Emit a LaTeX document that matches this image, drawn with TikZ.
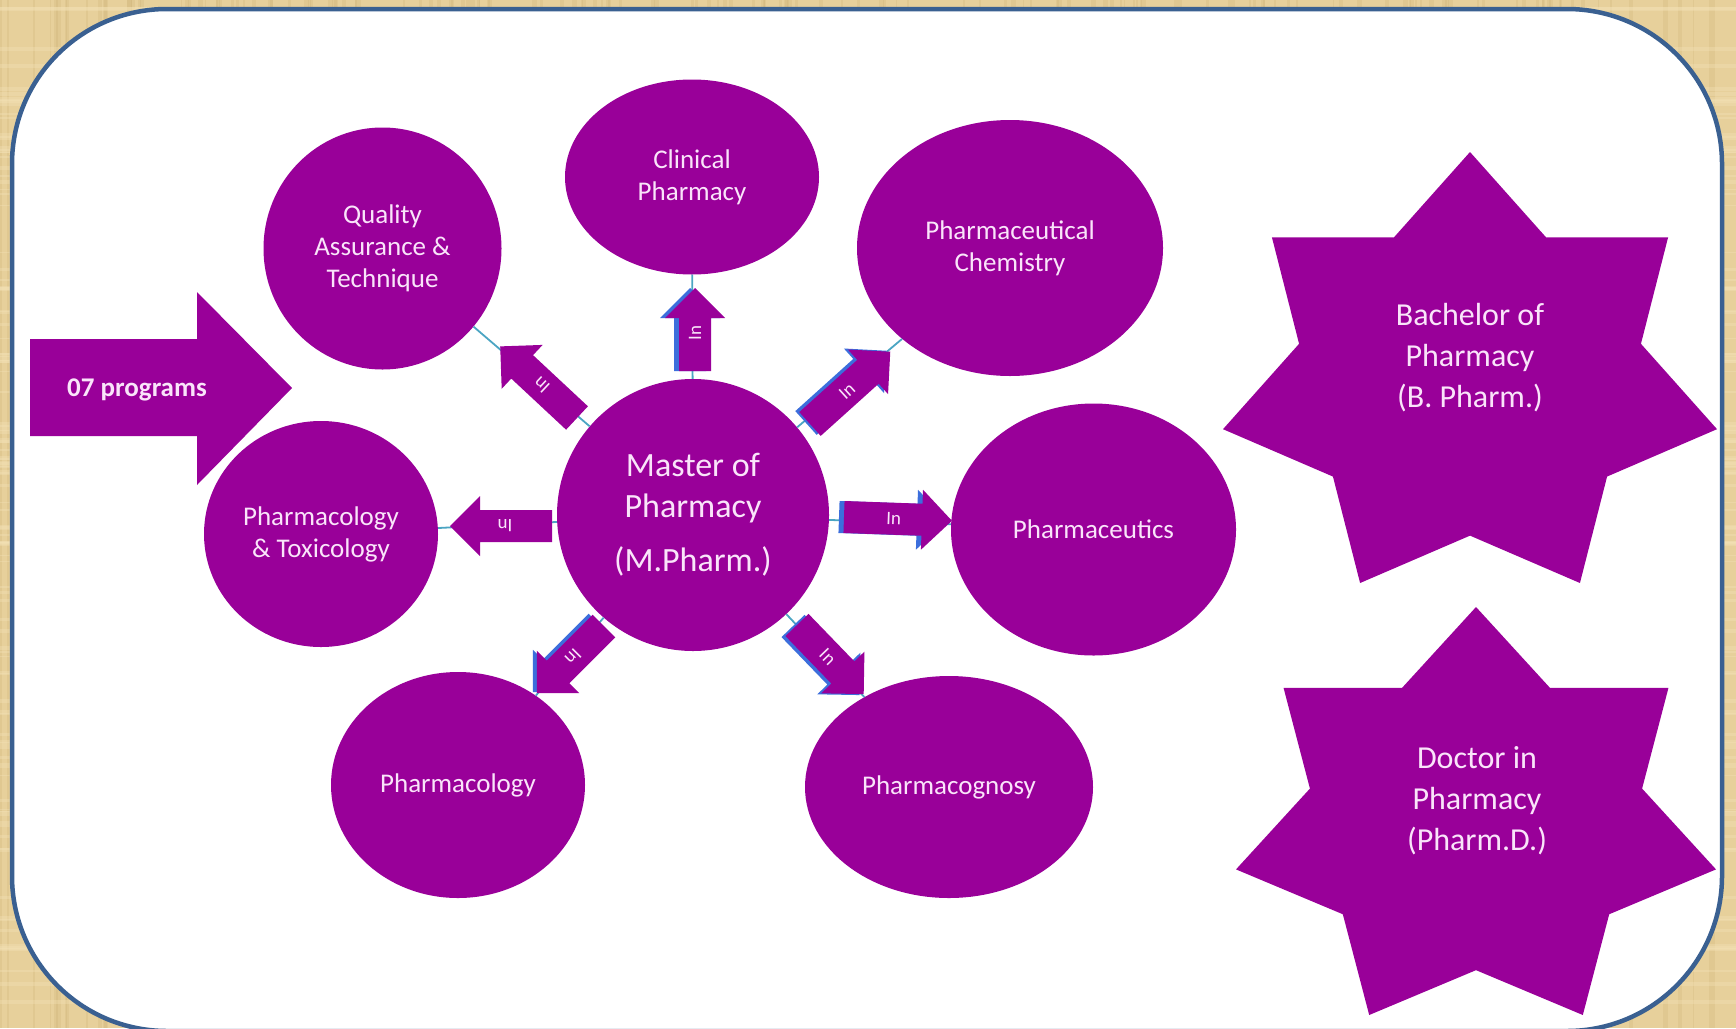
\documentclass[tikz,border=0pt]{standalone}
\usepackage{fontspec}
\setmainfont{Carlito}
\usetikzlibrary{shapes.geometric}
\definecolor{purp}{RGB}{153,0,153}
\definecolor{txtc}{RGB}{250,228,250}
\definecolor{framec}{RGB}{58,96,145}
\definecolor{bgc}{RGB}{231,208,155}
\definecolor{bgdark}{RGB}{200,172,110}
\definecolor{bglight}{RGB}{245,228,185}
\definecolor{connc}{RGB}{75,165,195}
\definecolor{edgec}{RGB}{60,110,220}
\tikzset{
  bubble/.style={ellipse, fill=purp, inner sep=0pt, text=txtc, align=center,
    font=\fontsize{27}{32}\selectfont},
  intext/.style={text=txtc, font=\fontsize{19}{22}\selectfont, inner sep=0pt},
  conn/.style={draw=connc, line width=1.8pt},
  startext/.style={text=txtc, align=center, font=\fontsize{32}{41}\selectfont},
}
% block arrow: style, tail x, tail y, angle, length
\newcommand\arrowbody[5]{\fill[#1, shift={(#2,#3)}, rotate=#4]
  (0,-16) -- ({#5-30},-16) -- ({#5-30},-30) -- (#5,0) -- ({#5-30},30)
  -- ({#5-30},16) -- (0,16) -- cycle;}
% label of block arrow: name, tail x, tail y, angle, length
\newcommand\inlabel[5]{\node[intext, rotate=#4] (#1)
  at ({#2+0.46*#5*cos(#4)},{#3-0.46*#5*sin(#4)}) {In};}
% Office-like 7-point star: left, top, width, height
\newcommand\sevenstar[4]{%
  \pgfmathsetmacro\stHc{#1+#3/2}%
  \pgfmathsetmacro\stSw{#3/2*1.02572}%
  \pgfmathsetmacro\stSh{#4/2*1.05210}%
  \pgfmathsetmacro\stSv{#2+\stSh}%
  \pgfmathsetmacro\stIw{0.69202*\stSw}%
  \pgfmathsetmacro\stIh{0.69202*\stSh}%
  \fill[purp] ({\stHc-0.97493*\stSw},{\stSv+0.22252*\stSh})
   -- ({\stHc-0.97493*\stIw},{\stSv-0.22252*\stIh})
   -- ({\stHc-0.78183*\stSw},{\stSv-0.62349*\stSh})
   -- ({\stHc-0.43388*\stIw},{\stSv-0.90097*\stIh})
   -- (\stHc,#2)
   -- ({\stHc+0.43388*\stIw},{\stSv-0.90097*\stIh})
   -- ({\stHc+0.78183*\stSw},{\stSv-0.62349*\stSh})
   -- ({\stHc+0.97493*\stIw},{\stSv-0.22252*\stIh})
   -- ({\stHc+0.97493*\stSw},{\stSv+0.22252*\stSh})
   -- ({\stHc+0.78183*\stIw},{\stSv+0.62349*\stIh})
   -- ({\stHc+0.43388*\stSw},{\stSv+0.90097*\stSh})
   -- (\stHc,{\stSv+\stIh})
   -- ({\stHc-0.43388*\stSw},{\stSv+0.90097*\stSh})
   -- ({\stHc-0.78183*\stIw},{\stSv+0.62349*\stIh})
   -- cycle;}
\begin{document}
\begin{tikzpicture}[x=1pt,y=-1pt]
\useasboundingbox (0,0) rectangle (1736,1028);
% parchment background with woven texture
\fill[bgc] (0,0) rectangle (1736,1028);
\pgfmathsetseed{7}
\foreach \i in {1,...,160}{
  \pgfmathsetmacro\tx{rnd*1736}\pgfmathsetmacro\tw{1+rnd*4}
  \fill[bgdark, opacity=0.22] (\tx,0) rectangle ++(\tw,1028);}
\foreach \i in {1,...,110}{
  \pgfmathsetmacro\ty{rnd*1028}\pgfmathsetmacro\th{1+rnd*4}
  \fill[bglight, opacity=0.35] (0,\ty) rectangle ++(1736,\th);}
\draw[framec, line width=4.5pt, fill=white, rounded corners=155pt] (12,9) rectangle (1722,1031);

% big arrow
\fill[purp] (30,339) -- (197,339) -- (197,292) -- (292,388) -- (197,485) -- (197,436) -- (30,436) -- cycle;
\node[text=txtc, font=\fontsize{27}{32}\selectfont\bfseries, inner sep=0pt] (prog) at (137,390) {07 programs};

% circles
\node[bubble, circle, minimum size=272pt, font=\fontsize{34}{41}\selectfont] (master) at (693,515)
  {Master of\\Pharmacy\\[13pt](M.Pharm.)};
\node[bubble, minimum width=238pt, minimum height=242pt] (qa) at (382.5,248.5) {Quality\\Assurance \&\\Technique};
\node[bubble, minimum width=254pt, minimum height=195pt] (clin) at (692,177) {Clinical\\Pharmacy};
\node[bubble, minimum width=306pt, minimum height=256pt] (chem) at (1010,248) {Pharmaceutical\\Chemistry};
\node[bubble, minimum width=285pt, minimum height=252pt] (ceu) at (1093.5,529.5) {Pharmaceutics};
\node[bubble, minimum width=234pt, minimum height=226pt] (tox) at (321,534) {Pharmacology\\\& Toxicology};
\node[bubble, minimum width=254pt, minimum height=226pt] (pcol) at (458,785) {Pharmacology};
\node[bubble, minimum width=288pt, minimum height=222pt] (gnosy) at (949,787) {Pharmacognosy};

% connectors
\draw[conn] (master) -- (qa);
\draw[conn] (master) -- (clin);
\draw[conn] (master) -- (chem);
\draw[conn] (master) -- (ceu);
\draw[conn] (master) -- (tox);
\draw[conn] (master) -- (pcol);
\draw[conn] (master) -- (gnosy);

% "In" arrows
\arrowbody{edgec}{690}{371}{90}{83}
\arrowbody{purp}{695}{371}{90}{83}
\inlabel{a1}{695}{371}{90}{83}

\arrowbody{edgec}{806}{423}{42}{108}
\arrowbody{purp}{810}{424}{42}{108}
\inlabel{a2}{810}{424}{42}{108}

\arrowbody{edgec}{839}{517}{-2}{108}
\arrowbody{purp}{844}{517}{-2}{108}
\inlabel{a3}{844}{517}{-2}{108}

\arrowbody{edgec}{793}{626}{-46}{96}
\arrowbody{purp}{797}{625}{-46}{96}
\inlabel{a4}{797}{625}{-46}{96}

\arrowbody{edgec}{600}{625}{-135}{95}
\arrowbody{purp}{604}{626}{-135}{95}
\inlabel{a5}{604}{626}{-135}{95}

\arrowbody{purp}{552}{526}{180}{102}
\inlabel{a6}{552}{526}{180}{102}

\arrowbody{purp}{577}{418}{137}{105}
\inlabel{a7}{577}{418}{137}{105}

% stars
\sevenstar{1223}{152}{494}{431}
\node[startext] (bach) at (1470,358) {Bachelor of\\Pharmacy\\(B. Pharm.)};
\sevenstar{1236}{607}{480}{408}
\node[startext] (doc) at (1477,801) {Doctor in\\Pharmacy\\(Pharm.D.)};
\end{tikzpicture}
\end{document}
